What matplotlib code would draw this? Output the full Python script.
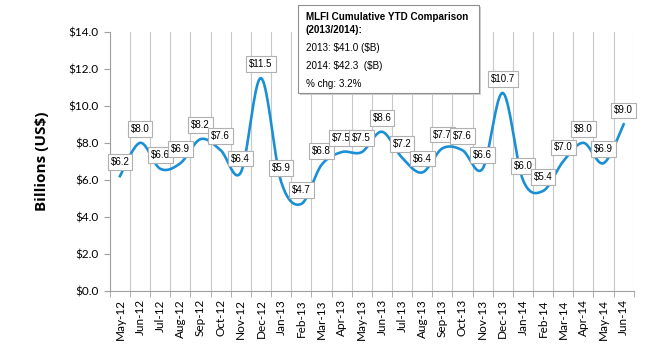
import matplotlib
matplotlib.use('Agg')
import matplotlib.pyplot as plt
import numpy as np

# Monthly values (billions US$)
months = ['May-12', 'Jun-12', 'Jul-12', 'Aug-12', 'Sep-12', 'Oct-12', 'Nov-12',
          'Dec-12', 'Jan-13', 'Feb-13', 'Mar-13', 'Apr-13', 'May-13', 'Jun-13',
          'Jul-13', 'Aug-13', 'Sep-13', 'Oct-13', 'Nov-13', 'Dec-13', 'Jan-14',
          'Feb-14', 'Mar-14', 'Apr-14', 'May-14', 'Jun-14']
values = [6.2, 8.0, 6.6, 6.9, 8.2, 7.6, 6.4, 11.5, 5.9, 4.7, 6.8, 7.5, 7.5,
          8.6, 7.2, 6.4, 7.7, 7.6, 6.6, 10.7, 6.0, 5.4, 7.0, 8.0, 6.9, 9.0]
y_ticks = [0, 2, 4, 6, 8, 10, 12, 14]
box_lines = ['2013: $41.0 ($B)', '2014: $42.3  ($B)', '% chg: 3.2%']


def smooth(x, y, n=20):
    '''Curva tipo Excel (Bezier con puntos de control Catmull-Rom).'''
    x = np.asarray(x, float)
    y = np.asarray(y, float)
    px = np.concatenate([[x[0]], x, [x[-1]]])
    py = np.concatenate([[y[0]], y, [y[-1]]])
    xs, ys = [], []
    t = np.linspace(0, 1, n)
    for i in range(1, len(px) - 2):
        p0 = np.array([px[i], py[i]])
        p3 = np.array([px[i + 1], py[i + 1]])
        c1 = p0 + (p3 - np.array([px[i - 1], py[i - 1]])) / 6
        c2 = p3 - (np.array([px[i + 2], py[i + 2]]) - p0) / 6
        b = ((1 - t)**3)[:, None] * p0 + (3 * (1 - t)**2 * t)[:, None] * c1 \
            + (3 * (1 - t) * t**2)[:, None] * c2 + (t**3)[:, None] * p3
        xs.append(b[:, 0])
        ys.append(b[:, 1])
    return np.concatenate(xs), np.concatenate(ys)


fig = plt.figure(figsize=(6.5, 3.5), dpi=100)
ax = fig.add_axes([0.169, 0.169, 0.806, 0.74])

x = np.arange(len(months))
sx, sy = smooth(x, values)
ax.plot(sx, sy, color='#1a8fd6', lw=1.9, zorder=3)

for xi, v in zip(x, values):
    ax.annotate(f'${v:.1f}', (xi, v), xytext=(0, 10), textcoords='offset points',
                ha='center', va='center', fontsize=7, family='Liberation Sans',
                zorder=4, parse_math=False,
                bbox=dict(boxstyle='square,pad=0.3', fc='white', ec='#b0b0b0', lw=0.8))

ax.set_xlim(-0.5, len(months) - 0.5)
ax.set_ylim(0, 14)
ax.set_yticks(y_ticks)
ax.set_yticklabels([f'${t:.1f}' for t in y_ticks], fontsize=8.5, family='Lato')
ax.set_xticks(x)
ax.set_xticklabels(months, rotation=90, fontsize=8.5, family='Lato')
ax.set_xticks(np.arange(len(months) + 1) - 0.5, minor=True)
ax.tick_params(axis='x', which='major', length=0, pad=6)
ax.tick_params(axis='x', which='minor', length=4, color='#a0a0a0')
ax.tick_params(axis='y', length=4, color='#a0a0a0', pad=4)
ax.grid(axis='x', which='minor', color='#c8c8c8', lw=0.8)
for s in ['top', 'right']:
    ax.spines[s].set_visible(False)
for s in ['left', 'bottom']:
    ax.spines[s].set_color('#a0a0a0')
ax.set_ylabel('Billions (US$)', fontsize=11, fontweight='bold', family='Open Sans',
              labelpad=14)

# Cuadro de comparacion
bx0, by0, bw, bh = 298 / 650, 1 - 93 / 350, 181 / 650, 88 / 350
fig.patches.append(plt.Rectangle((bx0 + 0.003, by0 - 0.006), bw, bh, transform=fig.transFigure,
                                 fc='#d0d0d0', ec='none', zorder=5))
fig.patches.append(plt.Rectangle((bx0, by0), bw, bh, transform=fig.transFigure,
                                 fc='white', ec='#909090', lw=0.8, zorder=6))
fig.text(306 / 650, 1 - 17 / 350, 'MLFI Cumulative YTD Comparison', fontsize=7.1,
         fontweight='bold', family='Liberation Sans', va='center', zorder=7)
fig.text(306 / 650, 1 - 30 / 350, '(2013/2014):', fontsize=7.1,
         fontweight='bold', family='Liberation Sans', va='center', zorder=7)
for i, line in enumerate(box_lines):
    fig.text(306 / 650, 1 - (48 + 18 * i) / 350, line, fontsize=7.1,
             family='Liberation Sans', va='center', zorder=7, parse_math=False)

fig.savefig('out.png', dpi=100)
